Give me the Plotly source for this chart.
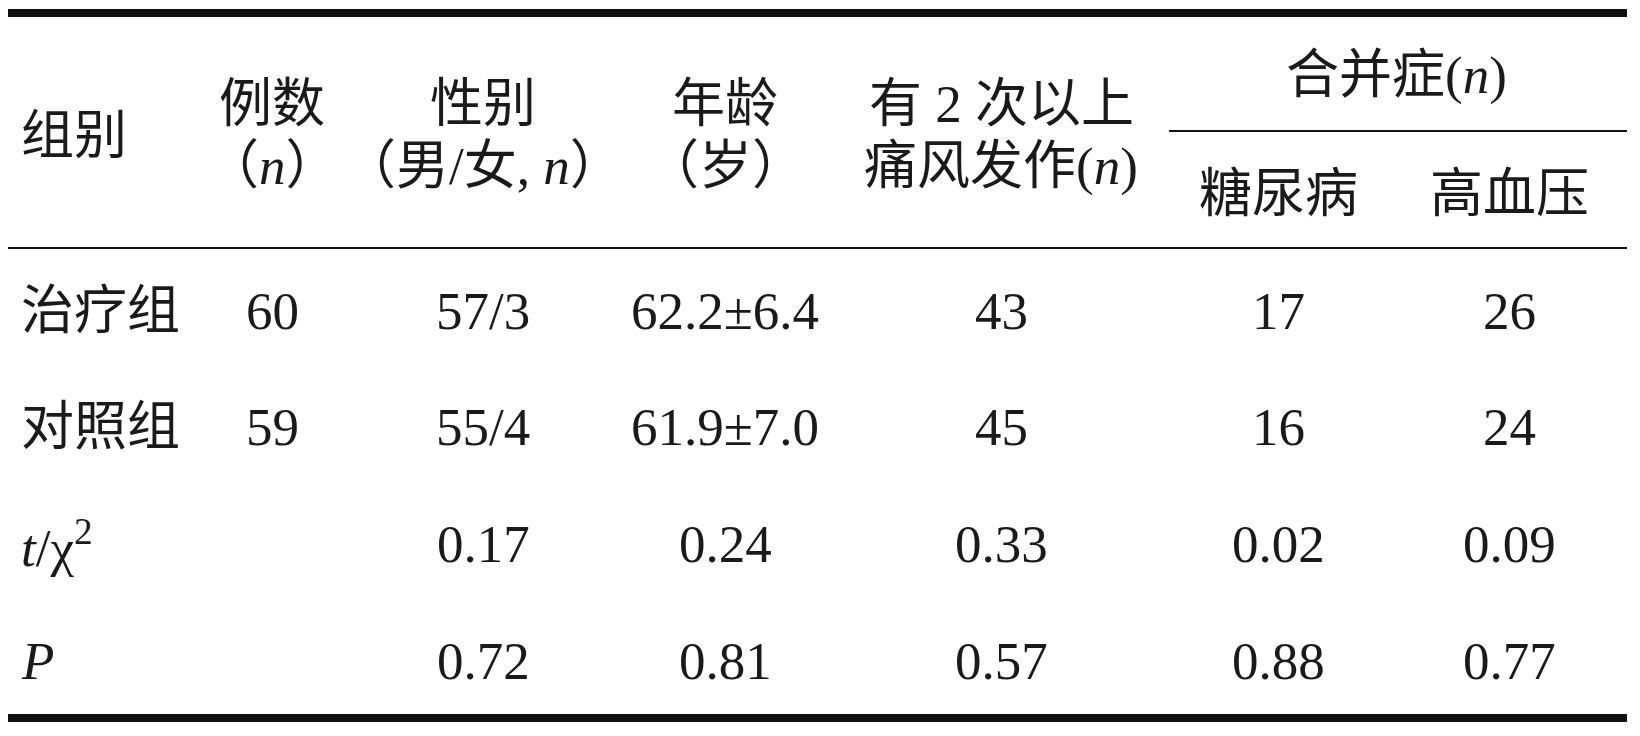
import plotly.graph_objects as go

# table contents
row_labels = ["治疗组", "对照组", "<i>t</i>/χ<sup>2</sup>", "<i>P</i>"]
n_cases = ["60", "59", "", ""]
sex_mf = ["57/3", "55/4", "0.17", "0.72"]
age_years = ["62.2±6.4", "61.9±7.0", "0.24", "0.81"]
gout_2plus = ["43", "45", "0.33", "0.57"]
diabetes = ["17", "16", "0.02", "0.88"]
hypertension = ["26", "24", "0.09", "0.77"]

header_top = ["例数", "性别", "年龄", "有 2 次以上"]
header_bottom = ["（<i>n</i>）", "（男/女, <i>n</i>）", "（岁）", "痛风发作(<i>n</i>)"]
comorb_title = "合并症(<i>n</i>)"
comorb_sub = ["糖尿病", "高血压"]

# page is 1640x736, body has an 8px margin, so the figure is drawn
# in page-pixel coordinates starting at 8
W, H = 1640, 736
PAD = 8
FONT = "Liberation Serif, Times New Roman, Noto Sans CJK SC, serif"
FS = 53
INK = "#1a1a1a"

col_x = [272, 483, 725, 1001, 1278, 1509]
row_y = [311, 427, 544, 661]
label_x = 19

fig = go.Figure()
fig.add_trace(go.Scatter(x=[PAD, W - PAD], y=[PAD, H - PAD], mode="markers",
                         marker=dict(opacity=0), hoverinfo="skip", showlegend=False))


def txt(x, y, s, anchor="center", size=FS):
    fig.add_annotation(x=x, y=y, text=s, showarrow=False, xanchor=anchor,
                       yanchor="middle", font=dict(family=FONT, size=size, color=INK))


def hline(x0, x1, y, w):
    fig.add_shape(type="line", x0=x0, x1=x1, y0=y, y1=y,
                  line=dict(color="#111111", width=w))


# rules
hline(8, 1627, 13, 8)
hline(8, 1627, 248, 2)
hline(1169, 1627, 131, 2)
hline(8, 1627, 718, 8)

# header
txt(label_x, 136, "组别", anchor="left")
for i, (a, b) in enumerate(zip(header_top, header_bottom)):
    txt(col_x[i], 104, a)
    txt(col_x[i], 166, b)
txt(1396, 75, comorb_title)
txt(col_x[4], 194, comorb_sub[0])
txt(col_x[5], 194, comorb_sub[1])

# body
columns = [n_cases, sex_mf, age_years, gout_2plus, diabetes, hypertension]
for r, lab in enumerate(row_labels):
    txt(label_x, row_y[r], lab, anchor="left")
    for c, col in enumerate(columns):
        if col[r]:
            txt(col_x[c], row_y[r], col[r])

fig.update_layout(
    width=W - 2 * PAD, height=H - 2 * PAD,
    margin=dict(l=0, r=0, t=0, b=0),
    paper_bgcolor="white", plot_bgcolor="white",
    xaxis=dict(range=[PAD, W - PAD], visible=False, fixedrange=True),
    yaxis=dict(range=[H - PAD, PAD], visible=False, fixedrange=True),
    showlegend=False,
)

fig.write_html("out.html", config={"displayModeBar": False})
